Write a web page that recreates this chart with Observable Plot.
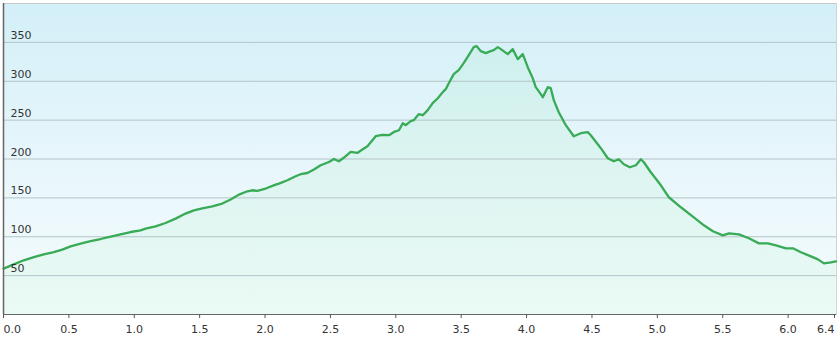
<!DOCTYPE html>
<html>
<head>
<meta charset="utf-8">
<script src="https://cdn.jsdelivr.net/npm/d3@7"></script>
<script src="https://cdn.jsdelivr.net/npm/@observablehq/plot@0.6"></script>
<style>
  html, body { margin: 0; padding: 0; background: #ffffff; }
  #chart svg { display: block; }
</style>
</head>
<body>
<div id="chart"></div>
<script>
// Distance along the route (km)
const distanceKm = [
  0.000, 0.028, 0.092, 0.155, 0.232, 0.308, 0.385, 0.449, 0.513, 0.589,
  0.666, 0.742, 0.819, 0.895, 0.972, 1.048, 1.086, 1.163, 1.239, 1.316,
  1.392, 1.456, 1.520, 1.597, 1.673, 1.737, 1.800, 1.865, 1.903, 1.941,
  2.005, 2.081, 2.106, 2.171, 2.234, 2.272, 2.324, 2.374, 2.425, 2.489,
  2.527, 2.565, 2.604, 2.655, 2.706, 2.744, 2.783, 2.821, 2.846, 2.897,
  2.948, 2.986, 3.024, 3.053, 3.076, 3.114, 3.137, 3.175, 3.206, 3.244,
  3.282, 3.321, 3.359, 3.382, 3.405, 3.443, 3.481, 3.519, 3.558, 3.596,
  3.619, 3.650, 3.688, 3.726, 3.749, 3.780, 3.803, 3.856, 3.894, 3.933,
  3.971, 4.009, 4.047, 4.070, 4.109, 4.124, 4.162, 4.185, 4.208, 4.246,
  4.300, 4.361, 4.415, 4.468, 4.491, 4.568, 4.621, 4.667, 4.705, 4.744,
  4.790, 4.836, 4.874, 4.897, 4.950, 5.027, 5.088, 5.180, 5.279, 5.356,
  5.425, 5.501, 5.547, 5.624, 5.700, 5.777, 5.846, 5.907, 5.984, 6.037,
  6.098, 6.175, 6.228, 6.274, 6.327, 6.366
];
// Elevation (m)
const elevationM = [
  59.0, 61.0, 65.4, 69.7, 73.9, 77.4, 80.3, 83.4, 87.7, 91.2,
  94.5, 97.1, 100.2, 103.1, 106.1, 108.3, 110.5, 113.4, 117.7, 123.3,
  129.8, 134.0, 136.6, 139.2, 142.7, 147.8, 154.2, 158.5, 159.8, 158.9,
  162.0, 167.1, 168.4, 172.7, 177.8, 180.4, 182.0, 186.4, 192.0, 196.2,
  200.1, 197.1, 201.9, 209.1, 207.8, 212.2, 216.4, 224.2, 229.3, 231.0,
  230.6, 234.8, 237.0, 246.0, 243.5, 248.6, 249.9, 257.6, 256.3, 262.8,
  271.8, 278.2, 286.0, 289.8, 297.5, 309.1, 314.3, 323.3, 333.6, 343.9,
  345.2, 338.7, 336.2, 338.7, 340.0, 343.9, 341.3, 334.9, 341.3, 328.4,
  334.9, 318.1, 304.0, 292.4, 283.4, 279.5, 292.4, 291.1, 275.7, 260.2,
  243.5, 229.3, 233.2, 234.5, 230.6, 213.9, 201.0, 197.1, 199.7, 193.3,
  189.4, 192.0, 199.7, 195.8, 183.0, 166.2, 150.8, 137.9, 125.0, 114.7,
  107.0, 101.8, 104.4, 103.1, 98.0, 91.5, 91.5, 89.0, 85.1, 85.1,
  80.0, 74.8, 70.9, 65.8, 67.1, 68.4
];
// Axis ticks and labels
const xTickValues = [0, 0.5, 1.0, 1.5, 2.0, 2.5, 3.0, 3.5, 4.0, 4.5, 5.0, 5.5, 6.0, 6.37];
const xTickLabels = ["0.0", "0.5", "1.0", "1.5", "2.0", "2.5", "3.0", "3.5", "4.0", "4.5", "5.0", "5.5", "6.0", "6.4"];
const yTickValues = [50, 100, 150, 200, 250, 300, 350];
const yTickLabels = ["50", "100", "150", "200", "250", "300", "350"];

const xDomain = [0, 6.37];
const yDomain = [0, 400];

const data = distanceKm.map((d, i) => ({d, e: elevationM[i]}));
const fmtX = v => xTickLabels[xTickValues.indexOf(v)];
const fmtY = v => yTickLabels[yTickValues.indexOf(v)];

const firstTick = xTickValues.slice(0, 1);
const midTicks = xTickValues.slice(1, -1);
const lastTick = xTickValues.slice(-1);

const axisCommon = {tickSize: 4, tickPadding: 7, stroke: "#555", fill: "#333"};

const chart = Plot.plot({
  width: 838,
  height: 338,
  marginLeft: 3,
  marginRight: 2,
  marginTop: 3,
  marginBottom: 24,
  x: {domain: xDomain},
  y: {domain: yDomain, axis: null},
  style: {
    fontFamily: "'DejaVu Sans', Verdana, sans-serif",
    fontSize: "11px",
    background: "#ffffff",
    color: "#333"
  },
  marks: [
    Plot.frame({fill: "url(#bgGrad)", stroke: null}),
    Plot.areaY(data, {x: "d", y: "e", fill: "url(#areaGrad)"}),
    Plot.ruleY(yTickValues, {stroke: "#b4c4c8", strokeWidth: 1}),
    Plot.frame({anchor: "top", stroke: "#c4c8ca"}),
    Plot.frame({anchor: "right", stroke: "#d0d4d6"}),
    Plot.lineY(data, {x: "d", y: "e", stroke: "#38ab56", strokeWidth: 2.3, strokeLinejoin: "round"}),
    Plot.text(yTickValues, {
      y: d => d, frameAnchor: "left", text: fmtY,
      textAnchor: "start", dx: 7, dy: -7, fill: "#333"
    }),
    Plot.ruleY([0], {stroke: "#666", strokeWidth: 1}),
    Plot.ruleX([0], {stroke: "#666", strokeWidth: 1.5}),
    Plot.axisX(firstTick, {...axisCommon, tickFormat: fmtX, textAnchor: "start", label: null}),
    Plot.axisX(midTicks, {...axisCommon, tickFormat: fmtX, label: null}),
    Plot.axisX(lastTick, {...axisCommon, tickFormat: fmtX, textAnchor: "end", dx: -2, label: null})
  ]
});

const defs = `
<linearGradient id="bgGrad" gradientUnits="userSpaceOnUse" x1="0" y1="3" x2="0" y2="314">
  <stop offset="0" stop-color="#d3eff8"/>
  <stop offset="0.5" stop-color="#e7f6fb"/>
  <stop offset="1" stop-color="#f5fcfd"/>
</linearGradient>
<linearGradient id="areaGrad" gradientUnits="userSpaceOnUse" x1="0" y1="40" x2="0" y2="314">
  <stop offset="0" stop-color="rgb(150,232,180)" stop-opacity="0.16"/>
  <stop offset="1" stop-color="rgb(170,238,190)" stop-opacity="0.14"/>
</linearGradient>`;
d3.select(chart).insert("defs", ":first-child").html(defs);

document.getElementById("chart").appendChild(chart);
</script>
</body>
</html>
